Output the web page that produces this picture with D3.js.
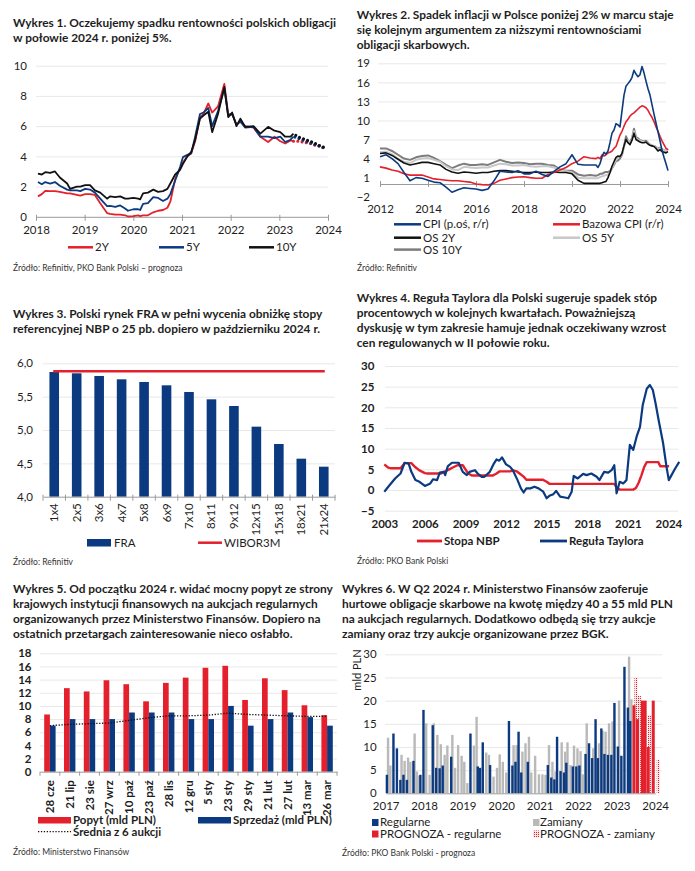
<!DOCTYPE html>
<html><head><meta charset="utf-8">
<script src="https://cdn.jsdelivr.net/npm/d3@7"></script>
<style>
html,body{margin:0;padding:0;background:#fff;}
svg text{font-family:Lato,"Noto Sans",sans-serif;}
</style></head><body>
<svg id="c" width="695" height="871"></svg>
<script>
// ---------------- DATA ----------------
// Panel 1
const p1Dates = [2018.04,2018.12,2018.19,2018.29,2018.39,2018.49,2018.64,2018.70,2018.84,2018.91,
 2019.01,2019.11,2019.21,2019.32,2019.46,2019.52,2019.63,2019.73,2019.83,2019.89,
 2020.00,2020.10,2020.14,2020.20,2020.30,2020.41,2020.51,2020.61,2020.70,2020.76,2020.86,2020.96,
 2021.02,2021.11,2021.19,2021.27,2021.37,2021.44,2021.54,2021.62,2021.74,2021.87,2021.95,
 2022.03,2022.12,2022.20,2022.30,2022.47,2022.61,2022.77,2022.90,
 2023.02,2023.12,2023.23,2023.29];
const p1Y10 = [2.85,2.8,2.95,2.9,3.0,2.6,2.2,1.85,2.0,2.0, 2.1,2.1,1.75,1.6,1.2,1.35,1.3,1.35,1.2,1.2,
 1.25,1.2,1.15,1.55,1.6,1.8,1.65,1.7,1.85,2.2,2.8,3.1, 3.5,4.0,4.3,5.1,6.5,6.7,6.95,5.6,6.8,8.6,6.6,
 6.9,6.0,6.5,5.95,6.0,5.5,5.95,5.7, 5.6,5.3,5.3,5.5];
const p1Y5 = [2.3,2.15,2.3,2.2,2.3,2.05,1.8,1.75,1.75,1.7, 1.85,1.8,1.6,1.2,0.7,0.72,0.65,0.75,0.55,0.4,
 0.5,0.5,0.45,0.85,0.9,1.3,1.25,1.05,1.2,1.5,2.4,3.3, 3.95,4.1,4.2,5.3,6.8,6.9,7.2,6.0,7.0,8.5,6.7,
 6.8,6.1,6.3,5.9,5.95,5.3,5.3,5.2, 5.3,4.95,5.1,5.3];
const p1Y2 = [1.35,1.5,1.72,1.7,1.7,1.65,1.55,1.55,1.45,1.4, 1.5,1.5,1.45,0.9,0.25,0.2,0.15,0.15,0.1,0.02,
 0.05,0.1,0.05,0.1,0.1,0.3,0.4,0.45,0.6,1.0,2.5,3.2, 3.6,4.0,4.2,5.0,6.6,6.8,7.5,6.9,7.3,8.8,6.8,
 6.8,6.1,6.3,6.0,5.9,5.3,4.95,5.3, 5.0,4.85,5.05,5.0];
const p1FcDates = [2023.29,2023.38,2023.46,2023.55,2023.63,2023.71,2023.80,2023.88,2023.96];
const p1Fc10 = [5.5,5.3,5.2,5.1,5.0,4.9,4.75,4.65,4.55];
const p1Fc5  = [5.3,5.2,5.1,5.0,4.9,4.8,4.7,4.6,4.5];
const p1Fc2  = [5.0,5.0,4.95,4.9,4.85,4.75,4.7,4.6,4.5];
const p1XTicks = [2018,2019,2020,2021,2022,2023,2024];
const p1YTicks = [0,2,4,6,8,10];

// Panel 2
const p2Dates = [2012,2012.25,2012.5,2012.75,2013,2013.25,2013.5,2013.75,2014,2014.25,2014.5,2014.75,
 2015,2015.25,2015.5,2015.75,2016,2016.25,2016.5,2016.75,2017,2017.25,2017.5,2017.75,
 2018,2018.25,2018.5,2018.75,2019,2019.25,2019.5,2019.75,2020,2020.25,2020.5,2020.75,
 2021,2021.083,2021.167,2021.25,2021.333,2021.417,2021.5,2021.583,2021.667,2021.75,2021.833,2021.917,
 2022,2022.083,2022.167,2022.25,2022.333,2022.417,2022.5,2022.583,2022.667,2022.75,2022.833,2022.917,
 2023,2023.083,2023.167,2023.25,2023.333,2023.417,2023.5,2023.583,2023.667,2023.75,2023.833,2023.917,2024];
const p2CPI = [4.3,4.6,4.0,3.2,1.8,0.5,1.0,0.9,0.6,0.3,0.2,-0.5,-1.3,-0.9,-0.6,-0.7,-0.8,-1.0,-0.8,0.5,
 2.0,1.9,1.8,2.1,1.6,1.6,2.0,1.5,1.2,2.0,2.7,3.2,4.6,3.1,3.0,3.0,
 3.0,2.6,3.2,4.3,5.0,4.7,5.2,6.5,8.0,8.5,9.5,9.3,9.0,11.5,14.0,15.4,15.8,16.2,16.8,17.9,17.3,16.9,17.2,18.5,
 17.5,16.2,15.0,14.0,12.5,11.0,9.6,8.2,6.8,5.3,4.2,3.2,2.1];
const p2Core = [2.7,2.5,2.2,2.0,1.6,1.4,1.4,1.4,1.1,0.8,0.7,0.6,0.5,0.5,0.4,0.3,0.0,-0.1,-0.15,0.1,
 0.6,0.8,1.0,1.1,1.15,1.0,0.9,0.9,1.5,1.8,2.2,2.6,3.2,3.6,4.3,4.1,
 4.0,4.2,4.0,4.6,4.4,4.6,4.9,5.0,5.2,5.6,5.9,6.8,7.7,8.3,9.1,9.8,10.2,10.7,11.0,11.2,11.5,11.8,12.1,12.3,
 12.2,12.0,11.6,11.0,10.5,9.8,9.0,8.3,7.5,6.8,6.2,5.6,5.4];
const p2OS2 = [4.8,4.9,4.5,3.9,3.3,3.0,3.2,3.4,3.4,3.2,3.0,2.3,1.9,1.7,1.9,1.8,1.7,1.8,1.8,2.0,
 2.1,2.1,2.0,1.9,1.8,1.8,1.9,1.8,1.8,1.9,1.8,1.8,1.6,0.6,0.1,0.1,
 0.1,0.1,0.1,0.2,0.3,0.4,1.0,1.8,2.8,3.5,4.2,4.4,4.3,4.8,6.0,7.0,6.5,6.2,6.9,8.0,7.0,6.8,6.6,6.5,
 6.5,6.6,6.3,6.1,6.0,5.9,5.6,5.2,5.4,5.1,5.0,4.9,5.1];
const p2OS5 = [5.0,5.1,4.7,4.0,3.5,3.3,3.8,4.0,4.1,3.8,3.5,2.8,2.3,2.2,2.7,2.6,2.5,2.6,2.6,2.9,
 3.2,3.1,2.9,2.9,3.0,2.8,2.7,2.8,2.8,2.6,2.2,2.0,1.8,1.0,0.9,0.9,
 0.9,0.9,1.1,1.2,1.3,1.4,1.5,1.8,2.5,3.2,3.8,4.2,4.3,4.7,5.8,6.8,6.8,6.5,7.0,8.3,7.2,7.0,6.8,6.7,
 6.6,6.6,6.4,6.2,6.1,6.0,5.8,5.5,5.6,5.4,5.3,5.2,5.4];
const p2OS10 = [5.6,5.6,5.2,4.6,4.0,3.8,4.2,4.4,4.5,4.1,3.6,3.0,2.5,2.9,3.2,3.0,3.0,3.1,3.0,3.4,
 3.8,3.5,3.3,3.4,3.3,3.1,3.2,3.2,3.0,2.9,2.3,2.1,2.1,1.5,1.3,1.4,
 1.3,1.4,1.6,1.6,1.8,1.9,1.9,2.0,2.5,3.0,3.6,3.7,4.0,4.6,6.0,7.5,6.8,6.6,7.2,8.7,7.4,7.2,6.9,6.8,
 6.7,6.8,6.5,6.2,6.0,6.0,5.8,5.6,5.7,5.5,5.3,5.2,5.5];
const p2XTicks = [2012,2014,2016,2018,2020,2022,2024];
const p2YTicks = [-2,1,4,7,10,13,16,19];

// Panel 3
const p3Cats = ["1x4","2x5","3x6","4x7","5x8","6x9","7x10","8x11","9x12","12x15","15x18","18x21","21x24"];
const p3FRA = [5.87,5.85,5.81,5.76,5.72,5.67,5.57,5.46,5.36,5.05,4.79,4.57,4.45];
const p3Wibor = 5.88;
const p3YTicks = [4.0,4.5,5.0,5.5,6.0];

// Panel 4
const p4NbpDates = [2003.0,2003.3,2003.5,2004.2,2004.5,2005.0,2005.3,2005.6,2006.0,2006.2,2007.2,2007.5,2007.8,2008.1,2008.4,2008.8,
 2009.0,2009.2,2009.5,2011.0,2011.3,2011.5,2012.3,2012.5,2012.8,2013.0,2013.3,2013.5,2014.7,2015.0,2015.2,2020.0,2020.2,2020.4,
 2021.4,2021.6,2021.8,2022.0,2022.2,2022.4,2023.25,2023.4,2024.05];
const p4Nbp = [6.2,5.4,5.25,5.25,6.5,6.5,5.5,4.75,4.1,4.0,4.0,4.5,5.0,5.5,6.0,6.0,
 5.0,4.0,3.5,3.5,4.0,4.5,4.5,4.75,4.5,4.0,3.25,2.5,2.5,2.0,1.5,1.5,0.5,0.1,
 0.1,0.5,1.75,3.5,5.5,6.75,6.75,5.75,5.75];
const p4TayDates = [2003.0,2003.4,2003.8,2004.2,2004.5,2004.8,2005.0,2005.3,2005.6,2006.0,2006.4,2006.6,2006.9,2007.1,2007.4,2007.5,2007.7,
 2008.0,2008.5,2008.8,2009.1,2009.3,2009.7,2009.9,2010.2,2010.4,2010.8,2011.1,2011.3,2011.5,2011.7,2012.0,2012.3,2012.5,2012.85,
 2013.1,2013.3,2013.5,2013.8,2014.1,2014.4,2014.75,2015.0,2015.2,2015.5,2015.7,2016.0,2016.35,2016.6,2016.85,2017.0,2017.3,2017.7,2017.95,
 2018.3,2018.7,2018.9,2019.25,2019.55,2019.8,2020.0,2020.17,2020.4,2020.66,2020.9,2021.15,2021.4,2021.65,2021.9,2022.1,2022.4,2022.63,2022.85,
 2023.05,2023.3,2023.6,2023.86,2024.03,2024.23,2024.5,2024.8];
const p4Tay = [-0.4,1.2,2.8,4.0,6.6,6.4,4.4,2.4,2.0,1.0,1.6,2.6,2.4,4.2,4.4,3.6,5.8,
 6.6,6.6,4.4,3.6,4.4,4.8,4.0,3.2,3.2,4.4,6.4,7.4,7.1,7.9,6.2,5.6,4.8,2.4,
 0.4,-0.6,0.4,0.4,0.8,0.4,-0.4,-2.0,-1.4,-1.0,-0.2,-1.6,-1.8,-2.0,-0.4,3.4,2.8,3.9,3.6,
 4.0,3.2,2.4,4.4,4.2,4.8,6.0,-0.8,2.0,1.6,2.4,10.9,9.7,12.9,15.3,20.5,24.5,25.4,24.2,
 21.0,16.5,11.5,5.6,2.4,3.6,5.2,6.8];
const p4XTicks = [2003,2006,2009,2012,2015,2018,2021,2024];
const p4YTicks = [-5,0,5,10,15,20,25,30];

// Panel 5
const p5Cats = ["28 cze","21 lip","23 sie","27 wrz","10 paź","23 paź","28 lis","12 gru","5 sty","23 sty","29 sty","21 lut","27 lut","13 mar","26 mar"];
const p5Demand = [8.7,12.7,12.2,13.9,13.3,10.7,13.5,14.3,15.8,16.1,10.9,14.2,12.4,10.1,8.6];
const p5Sales  = [7.0,8.0,8.0,8.0,9.0,9.0,9.0,8.0,8.0,10.0,7.0,8.0,9.0,8.3,7.0];
const p5Avg    = [7.0,7.2,7.3,7.4,7.8,8.2,8.5,8.5,8.6,8.9,8.7,8.6,8.5,8.4,8.4];
const p5YTicks = [0,2,4,6,8,10,12,14,16,18];

// Panel 6
const p6RegDates = [2017.00,2017.17,2017.26,2017.35,2017.43,2017.52,2017.69,2017.87,2017.95,2018.19,2018.28,2018.37,2018.45,2018.67,
 2019.17,2019.36,2019.42,2019.49,2019.68,2020.17,2020.26,2020.34,2020.42,2020.49,2020.66,
 2021.18,2021.27,2021.35,2021.42,2021.51,2021.60,2021.66,2021.83,2021.92,2022.00,
 2022.16,2022.25,2022.33,2022.42,2022.48,2022.57,2022.65,2022.74,2022.83,2022.91,2023.00,2023.09,2023.17,2023.26,2023.32];
const p6Reg = [4.0,12.9,9.7,2.9,4.0,2.9,7.0,4.0,18.0,14.7,5.5,5.4,6.0,7.9,
 12.9,5.8,5.5,11.0,6.1,15.6,6.0,6.8,13.3,4.5,6.8,
 6.1,3.4,3.0,12.2,4.8,4.5,6.6,5.8,5.8,6.0,
 8.5,10.8,7.6,16.0,7.6,14.0,8.5,8.3,8.3,19.5,10.1,8.1,27.3,18.5,15.6];
const p6SwDates = [2017.03,2017.09,2017.38,2017.46,2017.55,2017.61,2017.72,2017.78,2017.84,2018.02,2018.11,2018.22,2018.31,2018.40,
 2018.50,2018.57,2018.70,2018.77,2018.85,2018.94,2019.01,2019.09,2019.26,2019.33,2019.58,2019.65,2019.77,2019.86,2019.93,
 2020.01,2020.10,2020.29,2020.37,2020.52,2020.60,2020.69,2020.75,2020.85,2020.95,2021.04,2021.12,2021.21,2021.30,2021.38,
 2021.54,2021.63,2021.69,2021.77,2021.86,2021.95,2022.03,2022.09,2022.19,2022.36,2022.51,2022.60,2022.68,2022.77,2022.86,
 2023.03,2023.29,2023.35];
const p6Sw = [12.0,6.0,8.3,7.0,7.7,6.8,12.9,4.7,3.8,15.1,4.0,15.1,12.6,10.6,
 8.3,10.3,12.6,5.5,10.4,8.1,6.8,2.2,10.3,16.5,8.8,8.3,3.6,5.5,8.4,
 6.8,4.5,10.4,10.4,9.0,10.8,12.2,4.5,8.1,4.1,4.1,4.0,10.4,6.8,4.7,
 11.0,9.0,11.0,6.1,10.3,9.7,9.1,4.1,15.1,9.7,10.8,13.5,13.3,15.1,15.5,
 20.0,29.5,20.3];
const p6FcRegDates = [2023.41,2023.50,2023.63,2023.70,2023.78,2023.91];
const p6FcReg = [19.0,16.0,20.0,20.0,10.0,20.0];
const p6FcSwDates = [2023.46,2023.55,2023.81,2024.04];
const p6FcSw = [25.0,21.0,16.9,7.2];
const p6XTicks = [2017,2018,2019,2020,2021,2022,2023,2024];
const p6YTicks = [0,5,10,15,20,25,30];

// ---------------- STYLE ----------------
const RED = "#e3202b", NAVY = "#0b3a80", BLK = "#111111", LGR = "#c8c8c8", DGR = "#7d7d7d", BGR = "#b9b9b9";
const TXT = "#1e1e1e", GRID = "#e8e8e8", AX = "#9a9a9a";

const svg = d3.select("#c");
svg.append("rect").attr("width",695).attr("height",871).attr("fill","#fff");
const defs = svg.append("defs");
const pat = defs.append("pattern").attr("id","dots").attr("width",2).attr("height",2).attr("patternUnits","userSpaceOnUse");
pat.append("rect").attr("width",2).attr("height",2).attr("fill","#fbe3e4");
pat.append("rect").attr("width",1).attr("height",1).attr("fill",RED);

// titles with a common fitted size
const titles = [
 {x:13, y:26.7, lines:["Wykres 1. Oczekujemy spadku rentowności polskich obligacji","w połowie 2024 r. poniżej 5%."], ref:321.7},
 {x:356.7, y:19.3, lines:["Wykres 2. Spadek inflacji w Polsce poniżej 2% w marcu staje","się kolejnym argumentem za niższymi rentownościami","obligacji skarbowych."], ref:320},
 {x:13, y:318.3, lines:["Wykres 3. Polski rynek FRA w pełni wycenia obniżkę stopy","referencyjnej NBP o 25 pb. dopiero w październiku 2024 r."], ref:309},
 {x:356.7, y:301.7, lines:["Wykres 4. Reguła Taylora dla Polski sugeruje spadek stóp","procentowych w kolejnych kwartałach. Poważniejszą","dyskusję w tym zakresie hamuje jednak oczekiwany wzrost","cen regulowanych w II połowie roku."], ref:303},
 {x:13, y:593.3, lines:["Wykres 5. Od początku 2024 r. widać mocny popyt ze strony","krajowych instytucji finansowych na aukcjach regularnych","organizowanych przez Ministerstwo Finansów. Dopiero na","ostatnich przetargach zainteresowanie nieco osłabło."], ref:320},
 {x:342, y:593.3, lines:["Wykres 6. W Q2 2024 r. Ministerstwo Finansów zaoferuje","hurtowe obligacje skarbowe na kwotę między 40 a 55 mld PLN","na aukcjach regularnych. Dodatkowo odbędą się trzy aukcje","zamiany oraz trzy aukcje organizowane przez BGK."], ref:305}
];
const tg = svg.append("g");
let ratios = [];
titles.forEach(t => {
  const tt = tg.append("text").attr("x",t.x).attr("y",t.y).attr("font-size",12).attr("font-weight",700).text(t.lines[0]);
  ratios.push(t.ref / tt.node().getComputedTextLength());
  tt.remove();
});
const tfs = 12 * d3.mean(ratios);
titles.forEach(t => {
  t.lines.forEach((l,i)=>{
    tg.append("text").attr("x",t.x).attr("y",t.y + i*15).attr("font-size",tfs).attr("font-weight",700).attr("fill",TXT).text(l);
  });
});

function source(text,x,y){
  svg.append("text").attr("x",x).attr("y",y).attr("font-size",8.5).attr("fill","#333").text(text);
}
function styleAxisText(sel, fs, fw){
  sel.selectAll("text").attr("font-size",fs).attr("font-weight",fw||400).attr("fill",TXT).attr("font-family",'Lato,"Noto Sans",sans-serif');
}
function legLine(g,x0,x1,y,color,w,dash){
  const l = g.append("line").attr("x1",x0).attr("x2",x1).attr("y1",y).attr("y2",y).attr("stroke",color).attr("stroke-width",w);
  if(dash) l.attr("stroke-dasharray",dash);
}
function legText(g,x,y,text,fs,fw){
  g.append("text").attr("x",x).attr("y",y).attr("dy","0.35em").attr("font-size",fs).attr("font-weight",fw||400).attr("fill",TXT).text(text);
}
function grid(g, yScale, ticks, x0, x1){
  g.append("g").attr("transform",`translate(${x0},0)`)
   .call(d3.axisLeft(yScale).tickValues(ticks).tickSize(-(x1-x0)).tickFormat(""))
   .call(a=>a.select(".domain").remove())
   .selectAll("line").attr("stroke",GRID).attr("stroke-width",1);
}
function path(g, xs, ys, xS, yS, color, w, dash){
  const line = d3.line().x((d,i)=>xS(xs[i])).y(d=>yS(d)).defined(d=>d!=null);
  const p = g.append("path").datum(ys).attr("d",line).attr("fill","none").attr("stroke",color)
    .attr("stroke-width",w).attr("stroke-linejoin","round");
  if(dash) p.attr("stroke-dasharray",dash).attr("stroke-linecap","round");
  return p;
}

// ---------------- PANEL 1 ----------------
{
const g = svg.append("g");
const x = d3.scaleLinear().domain([2018,2024]).range([36,328]);
const y = d3.scaleLinear().domain([0,10]).range([216.8,65.7]);
grid(g, y, [2,4,6,8,10], 36, 328);
const ax = g.append("g").attr("transform",`translate(0,${y(0)})`)
  .call(d3.axisBottom(x).tickValues(p1XTicks).tickFormat(d3.format("d")).tickSizeOuter(0).tickSizeInner(4).tickPadding(5));
ax.selectAll("line,path").attr("stroke",AX);
ax.selectAll(".tick line").attr("y1",-2).attr("y2",4);
styleAxisText(ax, 11.5);
const ay = g.append("g").attr("transform","translate(27,0)")
  .call(d3.axisLeft(y).tickValues(p1YTicks).tickSize(0).tickPadding(0));
ay.select(".domain").remove();
styleAxisText(ay, 11.5);
path(g, p1Dates, p1Y2, x, y, RED, 1.8);
path(g, p1Dates, p1Y5, x, y, NAVY, 1.8);
path(g, p1Dates, p1Y10, x, y, BLK, 1.8);
path(g, p1FcDates, p1Fc2, x, y, RED, 3, "0.1,4.2");
path(g, p1FcDates, p1Fc5, x, y, NAVY, 3, "0.1,4.2").attr("stroke-dashoffset",-1.4);
path(g, p1FcDates, p1Fc10, x, y, BLK, 3, "0.1,4.2").attr("stroke-dashoffset",-2.8);
legLine(g,68,93,247.3,RED,2.5); legText(g,95,247.3,"2Y",11.5);
legLine(g,159,184,247.3,NAVY,2.5); legText(g,186,247.3,"5Y",11.5);
legLine(g,249,274,247.3,BLK,2.5); legText(g,276,247.3,"10Y",11.5);
source("Źródło: Refinitiv, PKO Bank Polski – prognoza",13,270.5);
}

// ---------------- PANEL 2 ----------------
{
const g = svg.append("g");
const x = d3.scaleLinear().domain([2012,2024]).range([380,668]);
const y = d3.scaleLinear().domain([-2,19]).range([196.7,63.3]);
grid(g, y, [4,7,10,13,16,19], 378, 666);
const ax = g.append("g").attr("transform",`translate(0,${y(0)})`)
  .call(d3.axisBottom(x).tickValues(p2XTicks).tickFormat(d3.format("d")).tickSizeOuter(0).tickSizeInner(4).tickPadding(17));
ax.selectAll("line,path").attr("stroke",AX);
ax.selectAll(".tick line").attr("y1",-3).attr("y2",3);
styleAxisText(ax, 11.5);
const ay = g.append("g").attr("transform","translate(370,0)")
  .call(d3.axisLeft(y).tickValues(p2YTicks).tickSize(0).tickPadding(0));
ay.select(".domain").remove();
styleAxisText(ay, 11.5);
path(g, p2Dates, p2OS10, x, y, DGR, 2);
path(g, p2Dates, p2OS5, x, y, LGR, 2);
path(g, p2Dates, p2OS2, x, y, BLK, 1.6);
path(g, p2Dates, p2Core, x, y, RED, 1.6);
path(g, p2Dates, p2CPI, x, y, NAVY, 1.6);
legLine(g,394,421,224.3,NAVY,2.5); legText(g,423,224.3,"CPI (p.oś, r/r)",11.5);
legLine(g,553,580,224.3,RED,2.5); legText(g,582,224.3,"Bazowa CPI (r/r)",11.5);
legLine(g,394,421,237.7,BLK,2.5); legText(g,423,237.7,"OS 2Y",11.5);
legLine(g,553,580,237.7,LGR,2.5); legText(g,582,237.7,"OS 5Y",11.5);
legLine(g,394,421,249.6,DGR,2.5); legText(g,423,249.6,"OS 10Y",11.5);
source("Źródło: Refinitiv",357,270.5);
}

// ---------------- PANEL 3 ----------------
{
const g = svg.append("g");
const x = d3.scaleBand().domain(p3Cats).range([43,335]).paddingInner(0).paddingOuter(0);
const y = d3.scaleLinear().domain([4,6]).range([496.7,363.3]);
grid(g, y, [4.5,5.0,5.5,6.0], 43, 335);
const bw = 9.6;
g.selectAll("rect.fra").data(p3FRA).join("rect").attr("class","fra")
  .attr("x",(d,i)=>x(p3Cats[i])+x.bandwidth()/2-bw/2).attr("width",bw)
  .attr("y",d=>y(d)).attr("height",d=>y(4)-y(d)).attr("fill",NAVY);
g.append("line").attr("x1",x(p3Cats[0])+x.bandwidth()/2-1).attr("x2",x(p3Cats[p3Cats.length-1])+x.bandwidth()/2+1)
  .attr("y1",y(p3Wibor)).attr("y2",y(p3Wibor)).attr("stroke",RED).attr("stroke-width",2.5);
const ax = g.append("g").attr("transform",`translate(0,${y(4)})`)
  .call(d3.axisBottom(x).tickSize(0).tickPadding(0));
ax.select(".domain").attr("stroke",AX);
ax.selectAll(".tick text").attr("transform","rotate(-90)").attr("text-anchor","end").attr("x",-6.5).attr("y",0).attr("dy","0.35em");
styleAxisText(ax, 11.5);
g.selectAll("line.edge").data(p3Cats.concat(["end"])).join("line").attr("class","edge")
  .attr("x1",(d,i)=> i<p3Cats.length ? x(d) : x.range()[1]).attr("x2",(d,i)=> i<p3Cats.length ? x(d) : x.range()[1])
  .attr("y1",y(4)-2).attr("y2",y(4)+4).attr("stroke",AX);
const ay = g.append("g").attr("transform","translate(33,0)")
  .call(d3.axisLeft(y).tickValues(p3YTicks).tickSize(0).tickPadding(0).tickFormat(d=>d3.format(".1f")(d).replace(".",",")));
ay.select(".domain").remove();
styleAxisText(ay, 11.5);
g.append("rect").attr("x",87).attr("y",539).attr("width",24).attr("height",7.5).attr("fill",NAVY);
legText(g,114,542.7,"FRA",11.5);
legLine(g,198,222,542.7,RED,2.5); legText(g,224,542.7,"WIBOR3M",11.5);
source("Źródło: Refinitiv",13,564.5);
}

// ---------------- PANEL 4 ----------------
{
const g = svg.append("g");
const x = d3.scaleLinear().domain([2003,2024]).range([384.3,668.4]);
const y = d3.scaleLinear().domain([-5,30]).range([510.7,366]);
grid(g, y, p4YTicks, 385, 678);
const ax = g.append("g").attr("transform",`translate(0,${y(-5)})`)
  .call(d3.axisBottom(x).tickValues(p4XTicks).tickFormat(d3.format("d")).tickSize(0).tickPadding(9));
ax.select(".domain").remove();
styleAxisText(ax, 11.5, 700);
const ay = g.append("g").attr("transform","translate(374.3,0)")
  .call(d3.axisLeft(y).tickValues(p4YTicks).tickSize(0).tickPadding(0));
ay.select(".domain").remove();
styleAxisText(ay, 11.5, 700);
path(g, p4NbpDates, p4Nbp, x, y, RED, 2.4);
path(g, p4TayDates, p4Tay, x, y, NAVY, 2.2);
legLine(g,417,442,541,RED,2.8); legText(g,444,541,"Stopa NBP",11.5,700);
legLine(g,540,567,541,NAVY,2.8); legText(g,569,541,"Reguła Taylora",11.5,700);
source("Źródło: PKO Bank Polski",357,564);
}

// ---------------- PANEL 5 ----------------
{
const g = svg.append("g");
const x = d3.scaleBand().domain(p5Cats).range([40,337]).paddingInner(0).paddingOuter(0);
const y = d3.scaleLinear().domain([0,18]).range([771.7,653.3]);
grid(g, y, [2,4,6,8,10,12,14,16,18], 40, 337);
const bw = 5.7;
const cx = i => x(p5Cats[i]) + x.bandwidth()/2;
g.selectAll("rect.dem").data(p5Demand).join("rect").attr("class","dem")
  .attr("x",(d,i)=>cx(i)-bw).attr("width",bw).attr("y",d=>y(d)).attr("height",d=>y(0)-y(d)).attr("fill",RED);
g.selectAll("rect.sal").data(p5Sales).join("rect").attr("class","sal")
  .attr("x",(d,i)=>cx(i)).attr("width",bw).attr("y",d=>y(d)).attr("height",d=>y(0)-y(d)).attr("fill",NAVY);
g.append("path").datum(p5Avg).attr("d",d3.line().x((d,i)=>cx(i)).y(d=>y(d)))
  .attr("fill","none").attr("stroke",BLK).attr("stroke-width",1.3).attr("stroke-dasharray","1.3,1.6");
const ax = g.append("g").attr("transform",`translate(0,${y(0)})`)
  .call(d3.axisBottom(x).tickSize(0).tickPadding(0));
ax.select(".domain").attr("stroke",AX);
ax.selectAll(".tick text").attr("transform","rotate(-90)").attr("text-anchor","end").attr("x",-8.5).attr("y",0).attr("dy","0.35em");
styleAxisText(ax, 11.5, 700);
g.selectAll("line.edge").data(p5Cats.concat(["end"])).join("line").attr("class","edge")
  .attr("x1",(d,i)=> i<p5Cats.length ? x(d) : x.range()[1]).attr("x2",(d,i)=> i<p5Cats.length ? x(d) : x.range()[1])
  .attr("y1",y(0)).attr("y2",y(0)+4).attr("stroke",AX);
const ay = g.append("g").attr("transform","translate(31.5,0)")
  .call(d3.axisLeft(y).tickValues(p5YTicks).tickSize(0).tickPadding(0));
ay.select(".domain").remove();
styleAxisText(ay, 11.5, 700);
g.append("rect").attr("x",38).attr("y",817).attr("width",33).attr("height",6.5).attr("fill",RED);
legText(g,73,820,"Popyt (mld PLN)",11.5,700);
g.append("rect").attr("x",198).attr("y",817).attr("width",33).attr("height",6.5).attr("fill",NAVY);
legText(g,233,820,"Sprzedaż (mld PLN)",11.5,700);
legLine(g,38,71,831.7,BLK,1.3,"1.3,1.6"); legText(g,73,831.7,"Średnia z 6 aukcji",11.5,700);
source("Źródło: Ministerstwo Finansów",13,855);
}

// ---------------- PANEL 6 ----------------
{
const g = svg.append("g");
const x = d3.scaleLinear().domain([2017,2024]).range([385.7,655.2]);
const y = d3.scaleLinear().domain([0,30]).range([793.3,654.3]);
grid(g, y, [5,10,15,20,25,30], 385, 662);
const bw = 2.4;
g.selectAll("rect.sw").data(p6Sw).join("rect").attr("class","sw")
  .attr("x",(d,i)=>x(p6SwDates[i])).attr("width",bw).attr("y",d=>y(d)).attr("height",d=>y(0)-y(d)).attr("fill",BGR);
g.selectAll("rect.reg").data(p6Reg).join("rect").attr("class","reg")
  .attr("x",(d,i)=>x(p6RegDates[i])).attr("width",bw).attr("y",d=>y(d)).attr("height",d=>y(0)-y(d)).attr("fill",NAVY);
g.selectAll("rect.fsw").data(p6FcSw).join("rect").attr("class","fsw")
  .attr("x",(d,i)=>x(p6FcSwDates[i])).attr("width",bw+0.6).attr("y",d=>y(d)).attr("height",d=>y(0)-y(d)).attr("fill","url(#dots)");
g.selectAll("rect.freg").data(p6FcReg).join("rect").attr("class","freg")
  .attr("x",(d,i)=>x(p6FcRegDates[i])).attr("width",bw+0.6).attr("y",d=>y(d)).attr("height",d=>y(0)-y(d)).attr("fill",RED);
const ax = g.append("g").attr("transform",`translate(0,${y(0)})`)
  .call(d3.axisBottom(x).tickValues(p6XTicks).tickFormat(d3.format("d")).tickSize(0).tickPadding(9).tickSizeOuter(0));
ax.select(".domain").attr("stroke",AX);
styleAxisText(ax, 11.5);
const ay = g.append("g").attr("transform","translate(376.7,0)")
  .call(d3.axisLeft(y).tickValues(p6YTicks).tickSize(0).tickPadding(0));
ay.select(".domain").remove();
styleAxisText(ay, 11.5);
g.append("text").attr("transform","translate(357,670) rotate(-90)").attr("text-anchor","middle").attr("dy","0.35em")
  .attr("font-size",11).attr("fill",TXT).text("mld PLN");
g.append("rect").attr("x",372).attr("y",819).attr("width",6.5).attr("height",7).attr("fill",NAVY);
legText(g,380,822.3,"Regularne",11.5);
g.append("rect").attr("x",533).attr("y",819).attr("width",6.5).attr("height",7).attr("fill",BGR);
legText(g,540,822.3,"Zamiany",11.5);
g.append("rect").attr("x",372).attr("y",830.5).attr("width",6.5).attr("height",7).attr("fill",RED);
legText(g,380,834,"PROGNOZA - regularne",11.5);
g.append("rect").attr("x",533).attr("y",830.5).attr("width",6.5).attr("height",7).attr("fill","url(#dots)");
legText(g,540,834,"PROGNOZA - zamiany",11.5);
source("Źródło: PKO Bank Polski - prognoza",342,855.5);
}
</script>
</body></html>
